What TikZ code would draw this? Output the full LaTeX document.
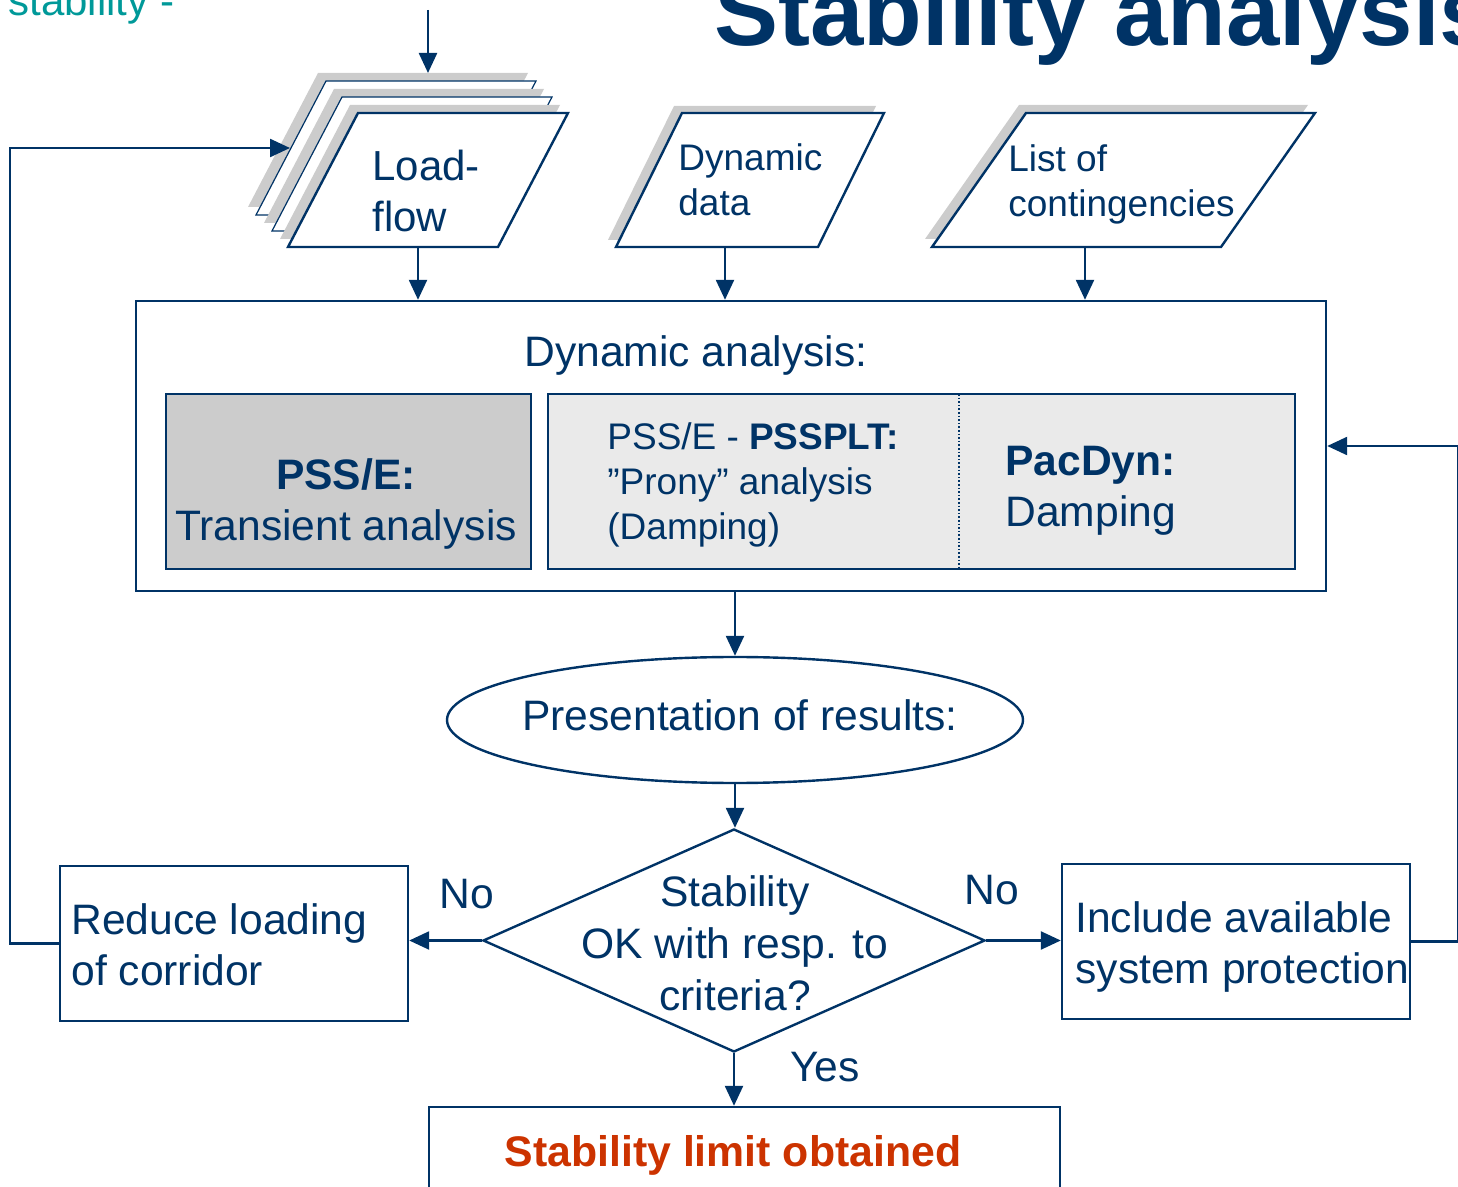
\documentclass[tikz,border=0pt]{standalone}
\usepackage{fontspec}
\setmainfont{Liberation Sans}
\usetikzlibrary{shapes.geometric,arrows.meta}

\definecolor{flowblue}{RGB}{0,51,102}
\definecolor{headteal}{RGB}{0,153,153}
\definecolor{limitred}{RGB}{204,51,0}
\definecolor{shadegray}{RGB}{204,204,204}
\definecolor{panelgray}{RGB}{234,234,234}

\tikzset{
  line/.style={draw=flowblue, line width=1.2pt},
  arr/.style={draw=flowblue, line width=1.2pt, -{Triangle[length=10pt,width=9pt]}},
  box/.style={line, rectangle, inner sep=0pt},
  txt/.style={text=flowblue, inner sep=0pt, font=\fontsize{21.3}{25.5}\selectfont},
  smalltxt/.style={text=flowblue, inner sep=0pt, font=\fontsize{18.5}{22.5}\selectfont},
}

\begin{document}
\begin{tikzpicture}[x=0.5pt, y=-0.5pt]
\useasboundingbox (0,0) rectangle (1458,1187);
\clip (0,0) rectangle (1458,1187);

% headings
\node[txt, font=\fontsize{21}{25}\selectfont, text=headteal, anchor=base west] (subtitle) at (8,16) {stability -};
\node[txt, font=\bfseries\fontsize{48}{56}\selectfont, anchor=base west] (title) at (714,46) {Stability analysis};

% load-flow stack
\foreach \k/\w in {2/0.6pt,1/0.6pt,0/1.2pt} {
  \begin{scope}[shift={(-16*\k,-16*\k)}]
    \fill[shadegray] (350,105) -- (560,105) -- (490,239) -- (280,239) -- cycle;
    \filldraw[fill=white, draw=flowblue, line width=\w] (358,113) -- (568,113) -- (498,247) -- (288,247) -- cycle;
  \end{scope}
}
% (base of a multi-line node = its last line)
\node[txt, font=\fontsize{21}{25.5}\selectfont, anchor=base west, align=left] (loadflow) at (372,232) {Load-\\flow};
\coordinate (lftop) at (428,73);
\coordinate (lfin) at (290,148);
\coordinate (lfout) at (418,247);

% dynamic data
\fill[shadegray] (674,106) -- (876,106) -- (810,240) -- (608,240) -- cycle;
\filldraw[fill=white, line] (682,113) -- (884,113) -- (818,247) -- (616,247) -- cycle;
\node[smalltxt, anchor=base west, align=left] (dyndata) at (678,216) {Dynamic\\data};
\coordinate (ddout) at (725,247);

% list of contingencies
\fill[shadegray] (1019,105) -- (1308,105) -- (1214,239) -- (925,239) -- cycle;
\filldraw[fill=white, line] (1026,113) -- (1315,113) -- (1221,247) -- (932,247) -- cycle;
\node[smalltxt, anchor=base west, align=left] (contlist) at (1008,217) {List of\\contingencies};
\coordinate (clout) at (1085,247);

% dynamic analysis
\node[box, minimum width=595pt, minimum height=145pt] (dynbox) at (731,446) {};
\node[txt, anchor=base] (dyntitle) at (696,367) {Dynamic analysis:};
\node[box, fill=shadegray, minimum width=182.5pt, minimum height=87.5pt] (psse) at (348.5,481.5) {};
\node[txt, anchor=base, align=center] (pssetxt) at (346,541) {\textbf{PSS/E:}\\Transient analysis};
\node[box, fill=panelgray, minimum width=373.5pt, minimum height=87.5pt] (prony) at (921.5,481.5) {};
\coordinate (divide) at (959,394);
\draw[flowblue, densely dotted, line width=0.8pt] (divide) -- (divide |- prony.south);
\node[smalltxt, anchor=base west, align=left] (pronytxt) at (607,540) {PSS/E - \textbf{PSSPLT:}\\”Prony” analysis\\(Damping)};
\node[txt, anchor=base west, align=left] (pacdyn) at (1005,527) {\textbf{PacDyn:}\\Damping};

% results and check
\node[line, ellipse, minimum width=288pt, minimum height=63pt, inner sep=0pt] (results) at (735,720) {};
\node[txt, font=\fontsize{21.3}{25}\selectfont, anchor=base] (resultstxt) at (740,731) {Presentation of results:};
\node[line, diamond, minimum width=251pt, minimum height=111.5pt, inner sep=0pt] (check) at (734,940.5) {};
\node[txt, anchor=base, align=center, font=\fontsize{21.3}{26}\selectfont] (checktxt) at (735,1010) {Stability\\OK with resp. to\\criteria?};

% outcome boxes
\node[box, minimum width=174pt, minimum height=77.5pt] (reduce) at (234,943.5) {};
\node[txt, anchor=base west, align=left] (reducetxt) at (71,985) {Reduce loading\\of corridor};
\node[box, minimum width=174pt, minimum height=77.5pt] (include) at (1236,941.5) {};
\node[txt, anchor=base west, align=left] (includetxt) at (1075,983) {Include available\\system protection};
\node[box, minimum width=315.5pt, minimum height=60pt] (limit) at (744.5,1167) {};
\node[txt, font=\bfseries\fontsize{21.4}{25}\selectfont, text=limitred, anchor=base] (limittxt) at (733,1166) {Stability limit obtained};

% labels
\node[txt, anchor=base] (noleft) at (467,908) {No};
\node[txt, anchor=base] (noright) at (992,904) {No};
\node[txt, anchor=base] (yes) at (825,1081) {Yes};

% connectors
\coordinate (topin) at (428,10);
\draw[arr] (topin) -- (lftop);
\draw[arr] (lfout) -- (lfout |- dynbox.north);
\draw[arr] (ddout) -- (ddout |- dynbox.north);
\draw[arr] (clout) -- (clout |- dynbox.north);
\draw[arr] (dynbox.south -| results.north) -- (results.north);
\draw[arr] (results.south) -- (results.south |- check.north);
\draw[arr] (check.west) -- (check.west -| reduce.east);
\draw[arr] (check.east) -- (check.east -| include.west);
\draw[arr] (check.south) -- (check.south |- limit.north);
\draw[arr] (reduce.west) -- ++(-49,0) |- (lfin);
\draw[arr] (include.east) -- ++(47,0) |- (dynbox.east);
\end{tikzpicture}
\end{document}
